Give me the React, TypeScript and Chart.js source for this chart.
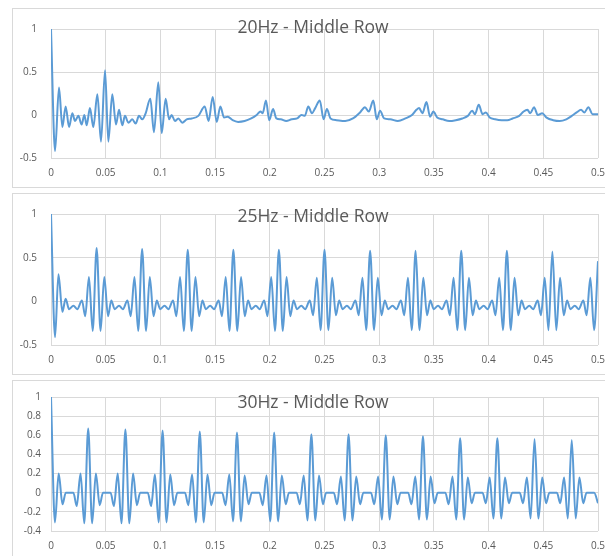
import React, { useEffect, useRef } from 'react';
import { Chart, registerables } from 'chart.js';

Chart.register(...registerables);

// ---- 20 Hz autocorrelation (lag in seconds, coefficient) ----
const lag20 = [
  0.0, 0.0037, 0.0073, 0.0104, 0.0134, 0.0165, 0.0195, 0.022, 0.025, 0.028,
  0.0305, 0.0326, 0.0356, 0.0387, 0.0424, 0.0457, 0.0494, 0.0524, 0.056, 0.0594,
  0.0622, 0.0652, 0.0676, 0.0707, 0.0743, 0.0774, 0.0804, 0.0835, 0.0865, 0.0908,
  0.0941, 0.0981, 0.1012, 0.1048, 0.1079, 0.1103, 0.1133, 0.1164, 0.12, 0.124,
  0.1286, 0.1347, 0.1405, 0.1441, 0.1478, 0.1515, 0.1548, 0.1582, 0.1615, 0.166,
  0.171, 0.177, 0.183, 0.188, 0.1915, 0.1935, 0.1965, 0.1995, 0.203, 0.206,
  0.21, 0.215, 0.22, 0.225, 0.229, 0.232, 0.2352, 0.2385, 0.2415, 0.2457,
  0.2492, 0.2522, 0.2555, 0.261, 0.269, 0.276, 0.2825, 0.287, 0.2905, 0.2946,
  0.2978, 0.3008, 0.3045, 0.31, 0.317, 0.324, 0.33, 0.334, 0.3365, 0.3395,
  0.3432, 0.3465, 0.3495, 0.353, 0.358, 0.364, 0.37, 0.376, 0.381, 0.385,
  0.3875, 0.391, 0.3945, 0.3975, 0.401, 0.406, 0.412, 0.417, 0.422, 0.428,
  0.432, 0.4355, 0.438, 0.4415, 0.445, 0.449, 0.453, 0.459, 0.465, 0.471,
  0.476, 0.4805, 0.4845, 0.4875, 0.4912, 0.495, 0.5,
];
const acf20 = [
  1.0, -0.42, 0.32, -0.14, 0.1, -0.14, 0.02, -0.07, -0.01, -0.11,
  0.0, -0.12, 0.08, -0.14, 0.24, -0.31, 0.52, -0.31, 0.24, -0.11,
  0.06, -0.12, -0.01, -0.09, -0.05, -0.1, -0.01, -0.05, 0.02, 0.19,
  -0.2, 0.38, -0.21, 0.19, -0.05, 0.0, -0.07, -0.04, -0.09, -0.05,
  -0.04, -0.01, 0.1, -0.07, 0.21, -0.08, 0.1, -0.03, -0.02, -0.06,
  -0.08, -0.07, -0.04, 0.0, 0.04, 0.02, 0.17, -0.06, 0.07, -0.04,
  -0.05, -0.07, -0.05, -0.04, 0.0, -0.01, 0.1, 0.02, 0.08, 0.17,
  -0.05, 0.07, -0.04, -0.06, -0.07, -0.04, 0.03, 0.09, 0.04, 0.17,
  -0.05, 0.05, -0.04, -0.05, -0.07, -0.04, 0.0, 0.06, 0.08, 0.02,
  0.15, -0.02, 0.04, -0.03, -0.05, -0.07, -0.06, -0.04, -0.01, 0.05,
  0.01, 0.12, 0.01, 0.03, -0.03, -0.05, -0.06, -0.06, -0.04, -0.01,
  0.04, 0.06, 0.02, 0.09, 0.0, 0.02, -0.03, -0.06, -0.07, -0.05,
  -0.01, 0.03, 0.06, 0.03, 0.09, 0.01, 0.01,
];

// ---- 25 Hz autocorrelation ----
const lag25 = [
  0.0, 0.0037, 0.0068, 0.0104, 0.0134, 0.0165, 0.0205, 0.024,
  0.0283, 0.0313, 0.0347, 0.0381, 0.0417, 0.0453, 0.0487, 0.0521, 0.0551, 0.0582, 0.0622, 0.0657,
  0.0699, 0.0729, 0.0763, 0.0797, 0.0833, 0.0869, 0.0903, 0.0937, 0.0967, 0.0998, 0.1038, 0.1073,
  0.1116, 0.1146, 0.118, 0.1214, 0.125, 0.1286, 0.132, 0.1354, 0.1384, 0.1415, 0.1455, 0.149,
  0.1533, 0.1563, 0.1597, 0.1631, 0.1667, 0.1703, 0.1737, 0.1771, 0.1801, 0.1832, 0.1872, 0.1907,
  0.1949, 0.1979, 0.2013, 0.2047, 0.2083, 0.2119, 0.2153, 0.2187, 0.2217, 0.2248, 0.2288, 0.2323,
  0.2366, 0.2396, 0.243, 0.2464, 0.25, 0.2536, 0.257, 0.2604, 0.2634, 0.2665, 0.2705, 0.274,
  0.2783, 0.2813, 0.2847, 0.2881, 0.2917, 0.2953, 0.2987, 0.3021, 0.3051, 0.3082, 0.3122, 0.3157,
  0.3199, 0.3229, 0.3263, 0.3297, 0.3333, 0.3369, 0.3403, 0.3437, 0.3467, 0.3498, 0.3538, 0.3573,
  0.3616, 0.3646, 0.368, 0.3714, 0.375, 0.3786, 0.382, 0.3854, 0.3884, 0.3915, 0.3955, 0.399,
  0.4033, 0.4063, 0.4097, 0.4131, 0.4167, 0.4203, 0.4237, 0.4271, 0.4301, 0.4332, 0.4372, 0.4407,
  0.4449, 0.4479, 0.4513, 0.4547, 0.4583, 0.4619, 0.4653, 0.4687, 0.4717, 0.4748, 0.4788, 0.4823,
  0.4866, 0.4896, 0.493, 0.4964, 0.5,
];
const acf25 = [
  1.0, -0.41, 0.31, -0.12, 0.03, -0.09, -0.05, -0.09,
  0.01, -0.17, 0.28, -0.34, 0.61, -0.34, 0.28, -0.17, 0.01, -0.09, -0.05, -0.09,
  0.01, -0.17, 0.28, -0.34, 0.6, -0.34, 0.28, -0.17, 0.01, -0.09, -0.05, -0.09,
  0.01, -0.17, 0.28, -0.34, 0.59, -0.34, 0.28, -0.17, 0.01, -0.09, -0.05, -0.09,
  0.01, -0.17, 0.28, -0.34, 0.59, -0.34, 0.28, -0.17, 0.01, -0.09, -0.05, -0.09,
  0.01, -0.17, 0.28, -0.34, 0.59, -0.34, 0.28, -0.17, 0.01, -0.09, -0.05, -0.09,
  0.01, -0.16, 0.27, -0.33, 0.59, -0.33, 0.27, -0.16, 0.01, -0.09, -0.05, -0.09,
  0.01, -0.16, 0.27, -0.33, 0.58, -0.33, 0.27, -0.16, 0.01, -0.09, -0.05, -0.09,
  0.01, -0.16, 0.27, -0.33, 0.58, -0.33, 0.27, -0.16, 0.01, -0.09, -0.05, -0.09,
  0.01, -0.16, 0.27, -0.33, 0.58, -0.33, 0.27, -0.16, 0.01, -0.09, -0.05, -0.09,
  0.01, -0.16, 0.27, -0.33, 0.58, -0.33, 0.27, -0.16, 0.01, -0.09, -0.05, -0.09,
  0.01, -0.16, 0.27, -0.33, 0.57, -0.33, 0.27, -0.16, 0.01, -0.09, -0.05, -0.09,
  0.01, -0.16, 0.27, -0.33, 0.46,
];

// ---- 30 Hz autocorrelation ----
const lag30 = [
  0.0, 0.0036, 0.007, 0.0105, 0.0135, 0.0205, 0.0235, 0.027, 0.0304,
  0.034, 0.0376, 0.041, 0.0445, 0.0475, 0.0545, 0.0575, 0.061, 0.0644,
  0.068, 0.0716, 0.075, 0.0785, 0.0815, 0.0885, 0.0915, 0.095, 0.0984,
  0.102, 0.1056, 0.109, 0.1125, 0.1155, 0.1225, 0.1255, 0.129, 0.1324,
  0.136, 0.1396, 0.143, 0.1465, 0.1495, 0.1565, 0.1595, 0.163, 0.1664,
  0.17, 0.1736, 0.177, 0.1805, 0.1835, 0.1905, 0.1935, 0.197, 0.2004,
  0.204, 0.2076, 0.211, 0.2145, 0.2175, 0.2245, 0.2275, 0.231, 0.2344,
  0.238, 0.2416, 0.245, 0.2485, 0.2515, 0.2585, 0.2615, 0.265, 0.2684,
  0.272, 0.2756, 0.279, 0.2825, 0.2855, 0.2925, 0.2955, 0.299, 0.3024,
  0.306, 0.3096, 0.313, 0.3165, 0.3195, 0.3265, 0.3295, 0.333, 0.3364,
  0.34, 0.3436, 0.347, 0.3505, 0.3535, 0.3605, 0.3635, 0.367, 0.3704,
  0.374, 0.3776, 0.381, 0.3845, 0.3875, 0.3945, 0.3975, 0.401, 0.4044,
  0.408, 0.4116, 0.415, 0.4185, 0.4215, 0.4285, 0.4315, 0.435, 0.4384,
  0.442, 0.4456, 0.449, 0.4525, 0.4555, 0.4625, 0.4655, 0.469, 0.4724,
  0.476, 0.4796, 0.483, 0.4865, 0.4895, 0.4965, 0.5,
];
const acf30 = [
  1.0, -0.31, 0.2, -0.12, 0.0, 0.0, -0.14, 0.2, -0.32,
  0.67, -0.32, 0.2, -0.13, 0.0, 0.0, -0.14, 0.2, -0.32,
  0.66, -0.32, 0.2, -0.13, 0.0, 0.0, -0.14, 0.19, -0.31,
  0.65, -0.31, 0.19, -0.13, 0.0, 0.0, -0.13, 0.19, -0.31,
  0.64, -0.31, 0.19, -0.13, 0.0, 0.0, -0.13, 0.19, -0.3,
  0.63, -0.3, 0.18, -0.12, 0.0, 0.0, -0.13, 0.18, -0.3,
  0.63, -0.3, 0.18, -0.12, 0.0, 0.0, -0.12, 0.18, -0.29,
  0.61, -0.29, 0.18, -0.12, 0.0, 0.0, -0.12, 0.17, -0.29,
  0.61, -0.29, 0.17, -0.12, 0.0, 0.0, -0.12, 0.17, -0.28,
  0.6, -0.28, 0.17, -0.12, 0.0, 0.0, -0.12, 0.17, -0.28,
  0.59, -0.28, 0.17, -0.11, 0.0, 0.0, -0.12, 0.17, -0.28,
  0.57, -0.28, 0.16, -0.11, 0.0, 0.0, -0.11, 0.16, -0.27,
  0.57, -0.27, 0.16, -0.11, 0.0, 0.0, -0.11, 0.16, -0.27,
  0.56, -0.27, 0.16, -0.11, 0.0, 0.0, -0.11, 0.16, -0.27,
  0.55, -0.27, 0.16, -0.11, 0.0, 0.0, -0.11,
];

// ---- axis ticks and titles ----
const xTickValues = [0, 0.05, 0.1, 0.15, 0.2, 0.25, 0.3, 0.35, 0.4, 0.45, 0.5];
const xTickLabels = ['0', '0.05', '0.1', '0.15', '0.2', '0.25', '0.3', '0.35', '0.4', '0.45', '0.5'];
const yTicksHalf = [-0.5, 0, 0.5, 1];
const yLabelsHalf = ['-0.5', '0', '0.5', '1'];
const yTicksFifth = [-0.4, -0.2, 0, 0.2, 0.4, 0.6, 0.8, 1];
const yLabelsFifth = ['-0.4', '-0.2', '0', '0.2', '0.4', '0.6', '0.8', '1'];
const panelTitles = ['20Hz - Middle Row', '25Hz - Middle Row', '30Hz - Middle Row'];

const FONT = '"Open Sans", "DejaVu Sans", sans-serif';
const TEXT = '#595959';
const GRID = '#d9d9d9';
const LINE = '#5b9bd5';

const CANVAS_W = 600;
const PLOT_LEFT = 38;
const PLOT_RIGHT_PAD = 15;
const X_AXIS_H = 28;

const titlePlugin = {
  id: 'panelTitle',
  afterDraw(chart: any, _args: any, opts: any) {
    const { ctx } = chart;
    ctx.save();
    ctx.font = `17.5px ${FONT}`;
    ctx.fillStyle = TEXT;
    ctx.textAlign = 'center';
    ctx.textBaseline = 'alphabetic';
    ctx.fillText(opts.text, opts.x, opts.y);
    ctx.restore();
  },
};

type PanelProps = {
  top: number;
  boxHeight: number;
  canvasHeight: number;
  lags: number[];
  values: number[];
  title: string;
  titleY: number;
  yTicks: number[];
  yLabels: string[];
  plotTop: number;
  plotBottom: number;
  yLabelPad: number;
};

function Panel(p: PanelProps) {
  const ref = useRef<HTMLCanvasElement>(null);

  useEffect(() => {
    const points = p.lags.map((x, i) => ({ x, y: p.values[i] }));
    const chart = new Chart(ref.current!, {
      type: 'line',
      data: {
        datasets: [
          {
            data: points,
            borderColor: LINE,
            borderWidth: 2,
            pointRadius: 0,
            fill: false,
            cubicInterpolationMode: 'monotone',
          },
        ],
      },
      options: {
        responsive: false,
        animation: false,
        devicePixelRatio: 1,
        layout: {
          padding: {
            left: 0,
            top: p.plotTop,
            right: PLOT_RIGHT_PAD,
            bottom: p.canvasHeight - p.plotBottom - X_AXIS_H,
          },
        },
        plugins: {
          legend: { display: false },
          tooltip: { enabled: false },
          title: { display: false },
          panelTitle: { text: p.title, x: 300, y: p.titleY },
        } as any,
        scales: {
          x: {
            type: 'linear',
            min: 0,
            max: 0.5,
            afterBuildTicks: (scale: any) => {
              scale.ticks = xTickValues.map((value) => ({ value }));
            },
            afterFit: (scale: any) => {
              scale.height = X_AXIS_H;
              scale.paddingLeft = 0;
              scale.paddingRight = 0;
            },
            ticks: {
              autoSkip: false,
              maxRotation: 0,
              padding: 9,
              color: TEXT,
              font: { family: FONT, size: 10 },
              callback: (v: any) => {
                const i = xTickValues.findIndex((t) => Math.abs(t - v) < 1e-9);
                return i >= 0 ? xTickLabels[i] : '';
              },
            },
            grid: { color: GRID, lineWidth: 1, drawTicks: false },
            border: { display: false },
          },
          y: {
            type: 'linear',
            min: p.yTicks[0],
            max: p.yTicks[p.yTicks.length - 1],
            afterBuildTicks: (scale: any) => {
              scale.ticks = p.yTicks.map((value) => ({ value }));
            },
            afterFit: (scale: any) => {
              scale.width = PLOT_LEFT;
            },
            ticks: {
              autoSkip: false,
              padding: p.yLabelPad,
              color: TEXT,
              font: { family: FONT, size: 10 },
              callback: (v: any) => {
                const i = p.yTicks.findIndex((t) => Math.abs(t - v) < 1e-9);
                return i >= 0 ? p.yLabels[i] : '';
              },
            },
            grid: { color: GRID, lineWidth: 1, drawTicks: false },
            border: { display: false },
          },
        },
      },
      plugins: [titlePlugin],
    });
    return () => chart.destroy();
  }, []);

  return (
    <div
      style={{
        position: 'absolute',
        left: 12,
        top: p.top,
        width: 640,
        height: p.boxHeight,
        border: `1px solid ${GRID}`,
        boxSizing: 'border-box',
        background: '#fff',
        overflow: 'hidden',
      }}
    >
      <canvas
        ref={ref}
        width={CANVAS_W}
        height={p.canvasHeight}
        style={{ display: 'block', width: CANVAS_W, height: p.canvasHeight }}
      />
    </div>
  );
}

export default function App() {
  return (
    <div
      style={{
        position: 'fixed',
        left: 0,
        top: 0,
        width: 605,
        height: 556,
        overflow: 'hidden',
        background: '#fff',
      }}
    >
      <Panel
        top={8}
        boxHeight={180}
        canvasHeight={178}
        lags={lag20}
        values={acf20}
        title={panelTitles[0]}
        titleY={24}
        yTicks={yTicksHalf}
        yLabels={yLabelsHalf}
        plotTop={12}
        plotBottom={149}
        yLabelPad={14}
      />
      <Panel
        top={193}
        boxHeight={182}
        canvasHeight={180}
        lags={lag25}
        values={acf25}
        title={panelTitles[1]}
        titleY={28}
        yTicks={yTicksHalf}
        yLabels={yLabelsHalf}
        plotTop={14}
        plotBottom={151}
        yLabelPad={14}
      />
      <Panel
        top={380}
        boxHeight={200}
        canvasHeight={190}
        lags={lag30}
        values={acf30}
        title={panelTitles[2]}
        titleY={27}
        yTicks={yTicksFifth}
        yLabels={yLabelsFifth}
        plotTop={12}
        plotBottom={150}
        yLabelPad={10}
      />
    </div>
  );
}
